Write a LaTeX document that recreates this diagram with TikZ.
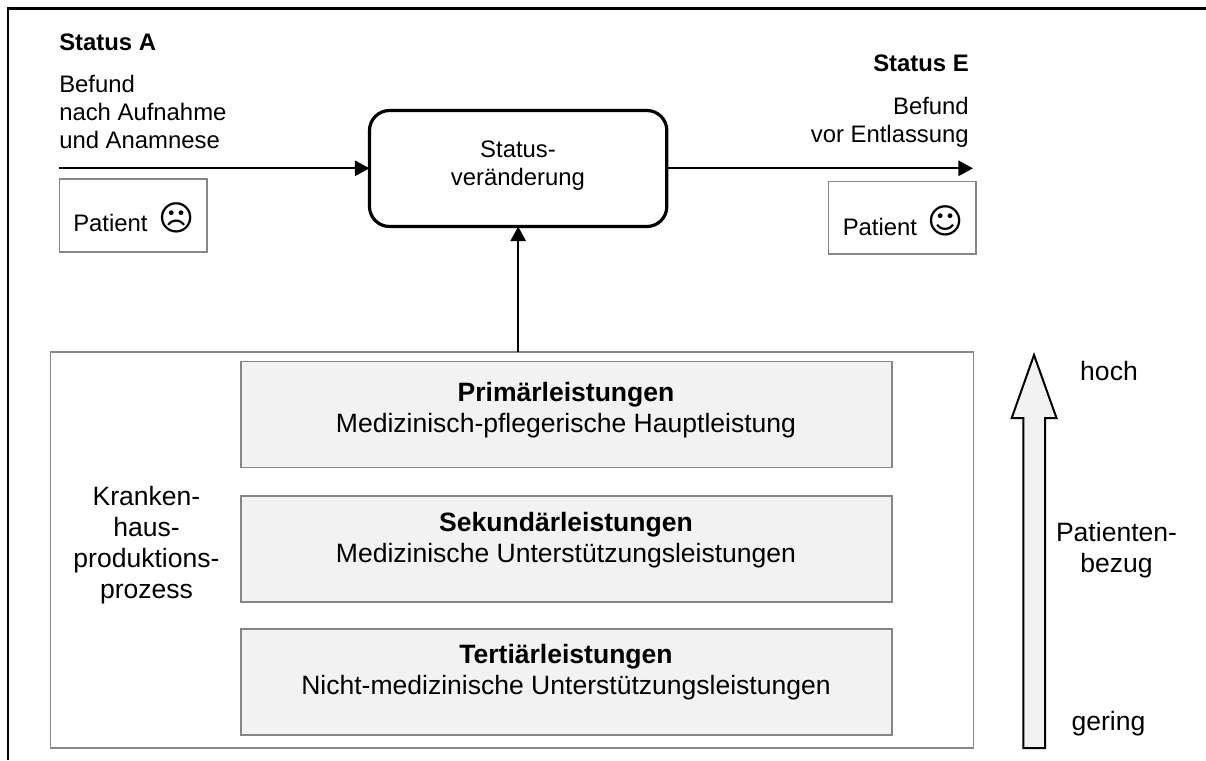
\documentclass[tikz,border=0pt]{standalone}
\usepackage{fontspec}
\setmainfont{Liberation Sans}
\newfontfamily\symfont{DejaVu Sans}
\newcommand{\smalltxt}{\fontsize{17.9}{20.8}\selectfont}
\newcommand{\bigtxt}{\fontsize{19.9}{23.2}\selectfont}
\newcommand{\facetxt}{\symfont\fontsize{26}{26}\selectfont}
\definecolor{boxgrey}{HTML}{868686}
\definecolor{boxfill}{HTML}{F2F2F2}
\usetikzlibrary{arrows.meta}
\tikzset{
  x=0.75pt,y=-0.75pt,
  flowarrow/.style={line width=1.5pt,-{Triangle[length=11pt,width=11.5pt]}},
  greybox/.style={draw=boxgrey,line width=1.4pt,fill=boxfill,anchor=north west,inner sep=0pt,outer sep=0pt,minimum width=488.25pt},
  whitebox/.style={draw=boxgrey,line width=1.4pt,fill=white,anchor=north west,inner sep=0pt,outer sep=0pt},
  smalllabel/.style={font=\smalltxt,inner sep=0pt},
  biglabel/.style={font=\bigtxt,inner sep=0pt,align=center},
  facelabel/.style={font=\facetxt,inner sep=0pt},
}
\begin{document}
\begin{tikzpicture}
\useasboundingbox (0,0) rectangle (1206,760);
\draw[line width=1.7pt] (8,760) -- (8,8.5) -- (1206,8.5);
% outer process box
\node[whitebox,minimum width=692.25pt,minimum height=297pt] (proc) at (50.5,352) {};
\node[greybox,minimum height=79.5pt] (prim) at (241,361.5) {};
\node[greybox,minimum height=79.5pt] (sek) at (241,496) {};
\node[greybox,minimum height=79.5pt] (ter) at (241,629) {};
\node[biglabel] (primt) at (566,410) {\textbf{Primärleistungen}\\Medizinisch-pflegerische Hauptleistung};
\node[biglabel] (sekt) at (566,540) {\textbf{Sekundärleistungen}\\Medizinische Unterstützungsleistungen};
\node[biglabel] (tert) at (566,672) {\textbf{Tertiärleistungen}\\Nicht-medizinische Unterstützungsleistungen};
\node[biglabel] (kh) at (146.5,545) {Kranken-\\haus-\\produktions-\\prozess};
% status
\node[draw,line width=2.4pt,rounded corners=15pt,minimum width=223pt,minimum height=87pt,anchor=north west,inner sep=0pt,outer sep=0pt] (st) at (369.5,110.5) {};
\node[smalllabel,align=center] (stt) at (518,165.5) {Status-\\veränderung};
\node[smalllabel,anchor=base west] (sa) at (59,50) {\textbf{Status A}};
\node[smalllabel,anchor=north west,align=left] (ba) at (59,75) {Befund\\nach Aufnahme\\und Anamnese};
\node[smalllabel,anchor=base east] (se) at (969,71.5) {\textbf{Status E}};
\node[smalllabel,anchor=north east,align=right] (be) at (969,97) {Befund\\vor Entlassung};
\coordinate (ain) at (59,168.3);
\coordinate (eout) at (973,168.3);
\draw[flowarrow] (ain) -- (ain -| st.west);
\draw[flowarrow] (st.east |- eout) -- (eout);
\draw[flowarrow] (proc.north -| st.south) -- (st.south);
\node[whitebox,minimum width=110.5pt,minimum height=54.5pt] (pa) at (59.5,179) {};
\node[smalllabel,anchor=base west] (pat) at (73,231.5) {Patient};
\node[facelabel] (sad) at (176.7,218) {☹};
\node[whitebox,minimum width=110.5pt,minimum height=54.5pt] (pe) at (828.5,181.5) {};
\node[smalllabel,anchor=base west] (pet) at (842.5,235) {Patient};
\node[facelabel] (hap) at (945.7,221) {☺};
% big arrow
\draw[line width=1.5pt,fill=boxfill,line join=miter] (1023.3,748) -- (1023.3,418) -- (1011.7,418) -- (1034,355) -- (1056.5,418) -- (1045,418) -- (1045,748) -- cycle;
\node[biglabel,anchor=base] (hoch) at (1109,380.5) {hoch};
\node[biglabel] (bez) at (1116.5,550) {Patienten-\\bezug};
\node[biglabel,anchor=base] (ger) at (1108.5,730) {gering};
\end{tikzpicture}
\end{document}
